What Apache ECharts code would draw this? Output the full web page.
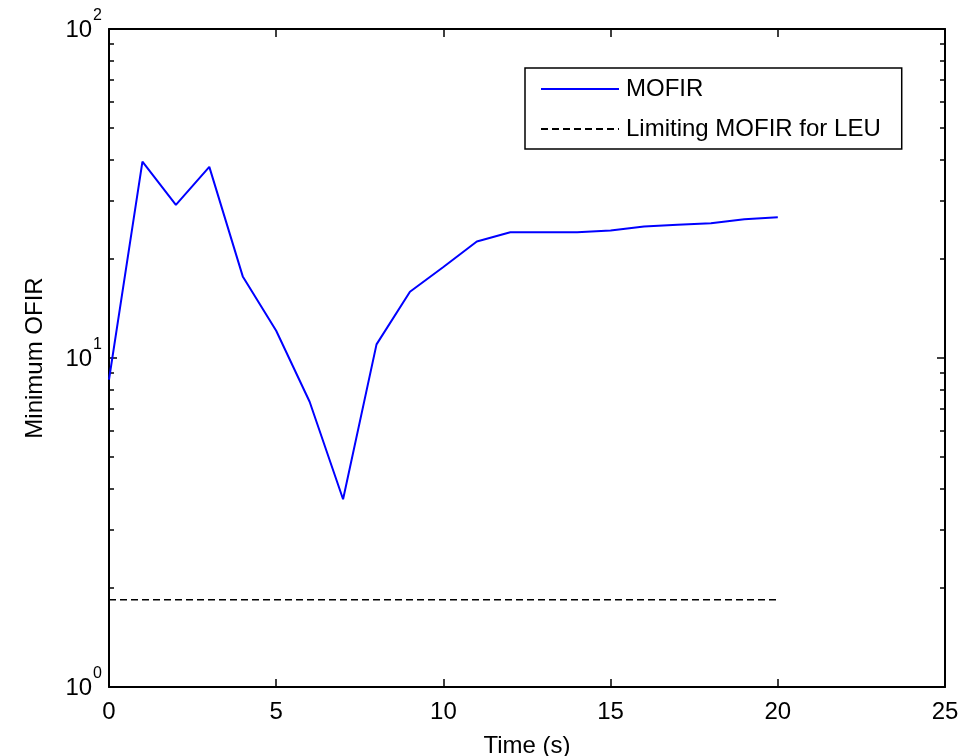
<!DOCTYPE html>
<html>
<head>
<meta charset="utf-8">
<style>
  html, body { margin: 0; padding: 0; background: #fff; }
  #chart { width: 980px; height: 756px; }
</style>
<script src="https://cdn.jsdelivr.net/npm/echarts@6/dist/echarts.min.js"></script>
</head>
<body>
<div id="chart"></div>
<script>
// ---- data ----
const timeValues = [0, 1, 2, 3, 4, 5, 6, 7, 8, 9, 10, 11, 12, 13, 14, 15, 16, 17, 18, 19, 20];
const mofirValues = [8.6, 39.5, 29.2, 38.1, 17.7, 12.1, 7.36, 3.72, 11.0, 15.9, 18.9, 22.6, 24.1, 24.1, 24.1, 24.4, 25.1, 25.4, 25.7, 26.4, 26.8];
const limitTimes = [0, 20];
const limitValues = [1.84, 1.84];
const xTicks = [0, 5, 10, 15, 20, 25];
const yMajorTicks = [1, 10, 100];
const yMinorTicks = [2, 3, 4, 5, 6, 7, 8, 9, 20, 30, 40, 50, 60, 70, 80, 90];
const seriesNames = ['MOFIR', 'Limiting MOFIR for LEU'];

const FONT = 'Arial, "Liberation Sans", sans-serif';
const chart = echarts.init(document.getElementById('chart'), null, { renderer: 'canvas' });

function pairs(xs, ys) { return xs.map((x, i) => [x, ys[i]]); }

const lineStyleAxis = { color: '#000', width: 2 };

function yAxisBase(pos, ticks, len, showLine) {
  return {
    type: 'log', logBase: 10, min: yMajorTicks[0], max: yMajorTicks[yMajorTicks.length - 1],
    position: pos,
    axisLine: { show: showLine, lineStyle: lineStyleAxis },
    axisTick: { show: true, inside: true, length: len, customValues: ticks, lineStyle: { color: '#000', width: 1.5 } },
    axisLabel: { show: false },
    splitLine: { show: false },
    minorTick: { show: false }
  };
}

const yLeft = yAxisBase('left', yMajorTicks, 8, true);
yLeft.axisLabel = {
  show: true, margin: 7, customValues: yMajorTicks,
  formatter: function (v) { return '{b|10}{s|' + Math.round(Math.log10(v)) + '}'; },
  rich: {
    b: { fontSize: 24, fontFamily: FONT, color: '#000', lineHeight: 24, padding: [3, 0, 0, 0] },
    s: { fontSize: 16, fontFamily: FONT, color: '#000', lineHeight: 16, padding: [0, 0, 26, 1] }
  }
};
yLeft.name = 'Minimum OFIR';
yLeft.nameLocation = 'middle';
yLeft.nameGap = 62;
yLeft.nameTextStyle = { fontSize: 24, fontFamily: FONT, color: '#000' };

const option = {
  animation: false,
  backgroundColor: '#fff',
  grid: { left: 109, right: 35, top: 29, bottom: 69, containLabel: false, outerBoundsMode: 'none' },
  legend: {
    show: true,
    orient: 'vertical',
    left: 525, top: 68,
    data: seriesNames,
    itemWidth: 78, itemHeight: 24, itemGap: 16,
    padding: [9, 21, 8, 15],
    borderColor: '#000', borderWidth: 1.5,
    backgroundColor: '#fff',
    itemStyle: { opacity: 0 },
    textStyle: { fontSize: 24, fontFamily: FONT, color: '#000', padding: [0, 0, 0, 2] }
  },
  xAxis: [
    {
      type: 'value', min: xTicks[0], max: xTicks[xTicks.length - 1], interval: 5, position: 'bottom',
      axisLine: { show: true, lineStyle: lineStyleAxis },
      axisTick: { show: true, inside: true, length: 8, lineStyle: { color: '#000', width: 1.5 } },
      axisLabel: { show: true, margin: 13, fontSize: 24, fontFamily: FONT, color: '#000' },
      splitLine: { show: false },
      name: 'Time (s)', nameLocation: 'middle', nameGap: 47,
      nameTextStyle: { fontSize: 24, fontFamily: FONT, color: '#000' }
    },
    {
      type: 'value', min: xTicks[0], max: xTicks[xTicks.length - 1], interval: 5, position: 'top',
      axisLine: { show: true, lineStyle: lineStyleAxis },
      axisTick: { show: true, inside: true, length: 8, lineStyle: { color: '#000', width: 1.5 } },
      axisLabel: { show: false },
      splitLine: { show: false }
    }
  ],
  yAxis: [
    yLeft,
    yAxisBase('left', yMinorTicks, 5, false),
    yAxisBase('right', yMajorTicks, 8, true),
    yAxisBase('right', yMinorTicks, 5, false)
  ],
  series: [
    {
      name: seriesNames[0], type: 'line', xAxisIndex: 0, yAxisIndex: 0,
      data: pairs(timeValues, mofirValues),
      showSymbol: false, symbol: 'none',
      lineStyle: { color: '#0000ff', width: 2 },
      itemStyle: { color: '#0000ff' },
      z: 3
    },
    {
      name: seriesNames[1], type: 'line', xAxisIndex: 0, yAxisIndex: 0,
      data: pairs(limitTimes, limitValues),
      showSymbol: false, symbol: 'none',
      lineStyle: { color: '#000', width: 1.5, type: [7, 4] },
      itemStyle: { color: '#000' },
      z: 3
    }
  ]
};
chart.setOption(option);
</script>
</body>
</html>
